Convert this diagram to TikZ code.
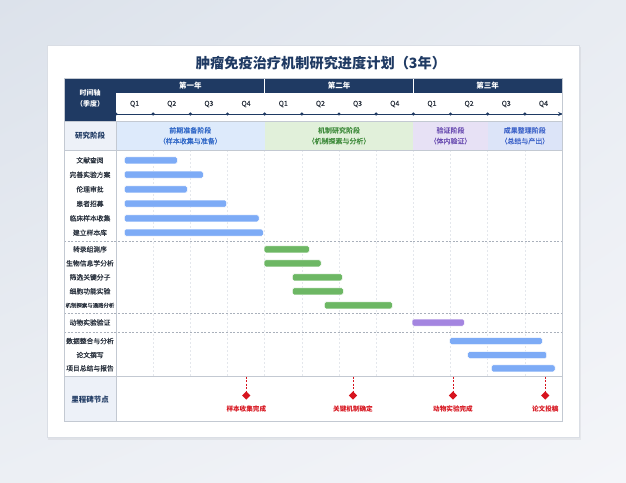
\documentclass[tikz,border=0pt]{standalone}
\usepackage{fontspec}
\setmainfont{Noto Sans CJK SC}
\newfontfamily\medfont{Noto Sans CJK SC}[FakeBold=0.5]
\usetikzlibrary{shapes.geometric,arrows.meta,shadings}
\definecolor{navy}{HTML}{1F3A63}
\definecolor{gridc}{HTML}{E4E7EC}
\definecolor{tblline}{HTML}{C3C9D2}
\definecolor{sepc}{HTML}{A9B0BB}
\definecolor{labc}{HTML}{2A323E}
\definecolor{barblue}{HTML}{7DABF6}
\definecolor{bargreen}{HTML}{6DB764}
\definecolor{barpurple}{HTML}{A485E0}
\definecolor{msred}{HTML}{D7141E}
\definecolor{phA}{HTML}{DDEAFB}
\definecolor{phB}{HTML}{E1F0DA}
\definecolor{phC}{HTML}{E7E1F5}
\definecolor{phD}{HTML}{DCE4F8}
\definecolor{txA}{HTML}{2F67C7}
\definecolor{txB}{HTML}{3D8A3A}
\definecolor{txC}{HTML}{6C4FB2}
\definecolor{txD}{HTML}{3D63C9}
\definecolor{sidebg}{HTML}{EDF1F8}
\definecolor{bgUL}{HTML}{DCE2EB}
\definecolor{bgUR}{HTML}{E8ECF2}
\definecolor{bgLL}{HTML}{ECEFF4}
\definecolor{bgLR}{HTML}{F4F5F9}
\definecolor{cardline}{HTML}{DADEE5}
\begin{document}
\begin{tikzpicture}[x=1pt,y=-1pt,
  rowlab/.style={font=\medfont\fontsize{6.8}{8}\selectfont, text=labc, inner sep=0},
  qlab/.style={font=\medfont\fontsize{7}{8}\selectfont, text=labc, inner sep=0},
  yearlab/.style={font=\bfseries\fontsize{7.5}{9}\selectfont, text=white, inner sep=0},
  sidehead/.style={font=\bfseries\fontsize{7.5}{9}\selectfont, text=navy, inner sep=0},
  phaselab/.style={font=\fontsize{7}{10}\selectfont, align=center, inner sep=0},
  mslab/.style={font=\bfseries\fontsize{6.6}{8}\selectfont, text=msred, inner sep=0},
  msdia/.style={diamond, fill=msred, minimum size=8.5pt, inner sep=0},
  dot/.style={circle, fill=navy, minimum size=3.4pt, inner sep=0},
  bar/.style={rounded corners=1.6pt, draw=white, line width=0.5pt},
  sepline/.style={draw=sepc, line width=0.6pt, dash pattern=on 2pt off 1.6pt},
  gridline/.style={draw=gridc, line width=0.5pt, dash pattern=on 2pt off 2pt},
  tbl/.style={draw=tblline, line width=0.7pt}
]
\useasboundingbox (0,0) rectangle (626,482);
% background
\shade[upper left=bgUL, upper right=bgUR, lower left=bgLL, lower right=bgLR]
  (0,0) rectangle (626,482);
% card
\fill[black, opacity=0.05] (48,47) rectangle (581,440);
\draw[draw=cardline, fill=white, line width=0.8pt] (47,45) rectangle (579,437);
% title
\node[font=\bfseries\fontsize{14.2}{17}\selectfont, text=navy, inner sep=0] (title) at (321,63) {肿瘤免疫治疗机制研究进度计划（3年）};

\def\qw{37.1667}
% header
\fill[navy] (64,78) rectangle (116,121);
\fill[navy] (116,78) rectangle (562,93);
\draw[white, line width=0.8pt] (264.67,78) -- (264.67,93);
\draw[white, line width=0.8pt] (413.33,78) -- (413.33,93);
\node[font=\bfseries\fontsize{7}{11}\selectfont, text=white, align=center, inner sep=0] (hdr) at (90,98) {时间轴\\（季度）};
\node[yearlab] (y1) at (190.33,86) {第一年};
\node[yearlab] (y2) at (339,86) {第二年};
\node[yearlab] (y3) at (487.67,86) {第三年};
\foreach \k [count=\i from 0] in {1,2,3,4,1,2,3,4,1,2,3,4} {
  \node[qlab] (q\i) at ({116+(\i+0.5)*\qw},104) {Q\k};
}
% timeline
\coordinate (tlA) at (116,114);
\coordinate (tlB) at (563,114);
\draw[navy, line width=0.8pt, -{Stealth[length=5pt,width=4pt]}] (tlA) -- (tlB);
\foreach \i in {0,...,11} {
  \node[dot] (d\i) at ({116+\i*\qw},114) {};
}
% phase row
\fill[sidebg] (64,121) rectangle (116,150);
\fill[phA] (116,121) rectangle (264.67,150);
\fill[phB] (264.67,121) rectangle (413.33,150);
\fill[phC] (413.33,121) rectangle (487.67,150);
\fill[phD] (487.67,121) rectangle (562,150);
\node[sidehead] (phh) at (90,135.5) {研究阶段};
\node[phaselab, text=txA] (ph1) at (190.33,136) {\textbf{前期准备阶段}\\{\medfont （样本收集与准备）}};
\node[phaselab, text=txB] (ph2) at (339,136) {\textbf{机制研究阶段}\\{\medfont （机制探索与分析）}};
\node[phaselab, text=txC] (ph3) at (450.5,136) {\textbf{验证阶段}\\{\medfont （体内验证）}};
\node[phaselab, text=txD] (ph4) at (524.83,136) {\textbf{成果整理阶段}\\{\medfont （总结与产出）}};
% milestone row bg
\fill[sidebg] (64,376) rectangle (116,421);
% grid lines
\foreach \i in {1,...,11} {
  \draw[gridline] ({116+\i*\qw},150) -- ({116+\i*\qw},376);
}
% separators
\draw[sepline] (64,241.5) -- (562,241.5);
\draw[sepline] (64,313.7) -- (562,313.7);
\draw[sepline] (64,332.3) -- (562,332.3);
% table lines
\draw[tbl] (64,121) -- (562,121);
\draw[tbl] (64,150) -- (562,150);
\draw[tbl] (64,376) -- (562,376);
\draw[tbl] (116,121) -- (116,421);
\draw[tbl] (64,78) rectangle (562,421);

% group 1 tasks
\foreach \y/\a/\b/\t [count=\n] in {
  160.3/124.3/177.3/文献查阅,
  174.7/124.3/203.3/完善实验方案,
  189.3/124.3/187.3/伦理审批,
  203.7/124.3/226.7/患者招募,
  218.3/124.3/259/临床样本收集,
  232.7/124.3/263.3/建立样本库} {
  \node[rowlab] (ta\n) at (90,\y) {\t};
  \filldraw[bar, fill=barblue] (\a,\y-3.5) rectangle (\b,\y+3.5);
}
% group 2 tasks
\foreach \y/\a/\b/\t [count=\n] in {
  249.3/264/309.3/转录组测序,
  263.3/264/321/生物信息学分析,
  277.3/292.3/342.3/筛选关键分子,
  291.3/292.3/343.3/细胞功能实验} {
  \node[rowlab] (tb\n) at (90,\y) {\t};
  \filldraw[bar, fill=bargreen] (\a,\y-3.5) rectangle (\b,\y+3.5);
}
\node[rowlab, font=\medfont\fontsize{5.4}{6}\selectfont] (tb5) at (90,305.3) {机制探索与通路分析};
\filldraw[bar, fill=bargreen] (324.3,305.3-3.5) rectangle (392.3,305.3+3.5);
% group 3
\node[rowlab] (tc1) at (90,322.5) {动物实验验证};
\filldraw[bar, fill=barpurple] (412,322.5-3.5) rectangle (464.3,322.5+3.5);
% group 4
\foreach \y/\a/\b/\t [count=\n] in {
  341/449.7/542.3/数据整合与分析,
  355/467.7/546.7/论文撰写,
  368.3/491.3/555/项目总结与报告} {
  \node[rowlab] (td\n) at (90,\y) {\t};
  \filldraw[bar, fill=barblue] (\a,\y-3.5) rectangle (\b,\y+3.5);
}

% milestones
\node[sidehead] (msh) at (90,399.5) {里程碑节点};
\foreach \x/\t [count=\n] in {246.3/样本收集完成, 353/关键机制确定, 453/动物实验完成, 545.3/论文投稿} {
  \coordinate (mt\n) at (\x,376.5);
  \node[msdia] (m\n) at (\x,395.5) {};
  \draw[msred, line width=0.6pt, dash pattern=on 2pt off 1.5pt] (mt\n) -- (m\n);
  \node[mslab] (ml\n) at (\x,408.6) {\t};
}
\end{tikzpicture}
\end{document}
